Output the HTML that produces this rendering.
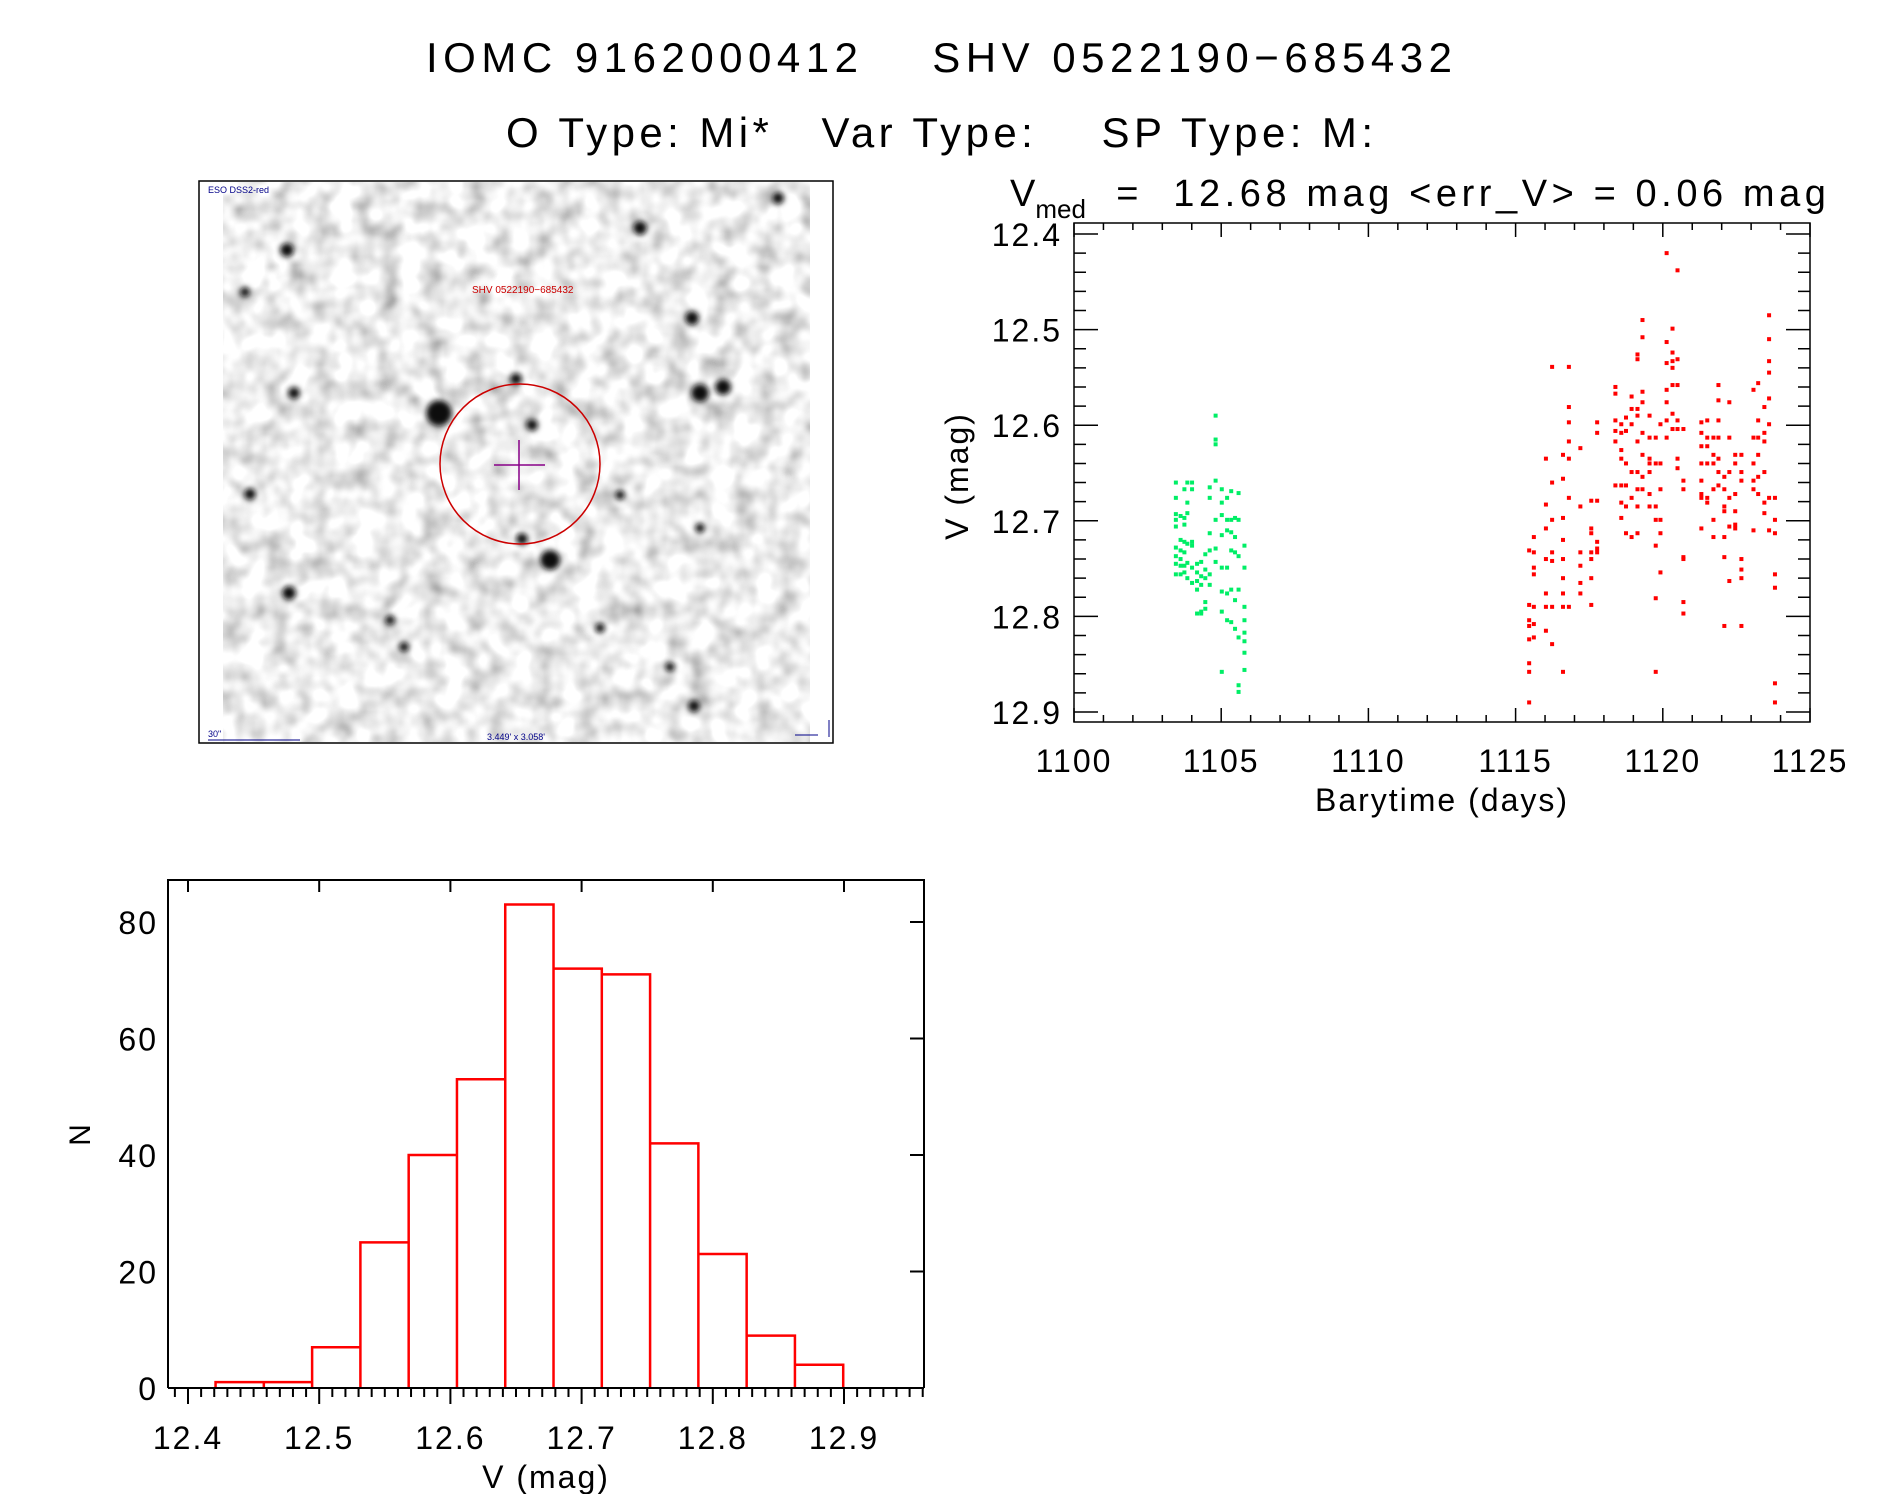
<!DOCTYPE html>
<html><head><meta charset="utf-8">
<style>
html,body{margin:0;padding:0;background:#fff;}
svg{display:block;font-family:"Liberation Sans",sans-serif;}
</style></head>
<body>
<svg id="fig" width="1889" height="1494" viewBox="0 0 1889 1494">
<defs>
<filter id="noise" x="0" y="0" width="100%" height="100%">
<feTurbulence type="fractalNoise" baseFrequency="0.045" numOctaves="2" seed="7" result="t"/>
<feColorMatrix type="saturate" values="0" in="t" result="g"/>
<feComponentTransfer in="g"><feFuncR type="linear" slope="-1.5" intercept="1.6"/><feFuncG type="linear" slope="-1.5" intercept="1.6"/><feFuncB type="linear" slope="-1.5" intercept="1.6"/><feFuncA type="linear" slope="0" intercept="1"/></feComponentTransfer>
</filter>
<filter id="blur"><feGaussianBlur stdDeviation="3"/></filter>
</defs>
<text x="426" y="72" font-size="42" textLength="1026" lengthAdjust="spacing" xml:space="preserve">IOMC 9162000412    SHV 0522190−685432</text>
<text x="506" y="147" font-size="42" textLength="867" lengthAdjust="spacing" xml:space="preserve">O Type: Mi*   Var Type:    SP Type: M:</text>
<text x="1010" y="206" font-size="38" xml:space="preserve">V<tspan font-size="26" dy="12">med</tspan><tspan dy="-12" textLength="740" lengthAdjust="spacing">  =  12.68 mag &lt;err_V&gt; = 0.06 mag</tspan></text>

<g>
<rect x="199" y="181" width="634" height="562" fill="#fff" stroke="#000" stroke-width="1.5"/>
<rect x="223" y="182" width="587" height="560" fill="#e6e6e6" filter="url(#noise)"/>
<g fill="#111" filter="url(#blur)">
<circle cx="439" cy="413" r="13"/><circle cx="550" cy="560" r="10"/><circle cx="287" cy="250" r="7"/><circle cx="692" cy="318" r="7"/><circle cx="700" cy="393" r="9"/><circle cx="723" cy="387" r="8"/><circle cx="640" cy="228" r="7"/><circle cx="294" cy="393" r="6"/><circle cx="250" cy="494" r="6"/><circle cx="516" cy="379" r="6"/><circle cx="532" cy="425" r="6"/><circle cx="245" cy="292" r="5"/><circle cx="289" cy="593" r="7"/><circle cx="522" cy="539" r="6"/><circle cx="694" cy="706" r="6"/><circle cx="778" cy="198" r="6"/><circle cx="670" cy="667" r="5"/><circle cx="600" cy="628" r="5"/><circle cx="404" cy="647" r="5"/><circle cx="620" cy="495" r="5"/><circle cx="390" cy="620" r="5"/><circle cx="700" cy="528" r="5"/></g>
<circle cx="520" cy="464" r="80" fill="none" stroke="#c00" stroke-width="1.5"/>
<path d="M519 440V490M494 465H545" stroke="#808" stroke-width="1.5"/>
<text x="472" y="293" font-size="10" fill="#c00">SHV 0522190−685432</text>
<text x="208" y="193" font-size="9" fill="#008">ESO DSS2-red</text>
<text x="208" y="737" font-size="9" fill="#008">30"</text>
<path d="M208 740H300" stroke="#008"/>
<text x="487" y="740" font-size="9" fill="#008">3.449' x 3.058'</text>
<path d="M829 720V737M795 735H818" stroke="#008"/>
</g>

<g id="lc"></g>
<g id="hist"></g>
</svg>
<script>
// ===== light curve data =====
const greenTimes = [1103.46,1103.62,1103.75,1103.85,1104.01,1104.18,1104.32,1104.46,1104.61,1104.81,1105.02,1105.2,1105.34,1105.47,1105.59,1105.79];
const greenMags = [
[12.660,12.676,12.693,12.699,12.706,12.728,12.737,12.745,12.756],
[12.695,12.720,12.731,12.740,12.747,12.756],
[12.667,12.697,12.704,12.722,12.733,12.747,12.754],
[12.660,12.681,12.692,12.724,12.744,12.760],
[12.660,12.667,12.722,12.726,12.749,12.765],
[12.745,12.754,12.763,12.772,12.797],
[12.743,12.758,12.767,12.795,12.797],
[12.735,12.751,12.760,12.785,12.792],
[12.665,12.676,12.713,12.731,12.756,12.767],
[12.590,12.615,12.620,12.658,12.699,12.729,12.743],
[12.667,12.681,12.694,12.715,12.749,12.774,12.795,12.858],
[12.676,12.699,12.710,12.749,12.776,12.804],
[12.669,12.699,12.712,12.731,12.772,12.806],
[12.697,12.717,12.733,12.783,12.813],
[12.671,12.699,12.737,12.772,12.822,12.872,12.879],
[12.726,12.749,12.790,12.804,12.817,12.826,12.838,12.856]];
const redTimes = [1115.46,1115.62,1116.03,1116.24,1116.61,1116.81,1117.2,1117.57,1117.77,1118.39,1118.59,1118.75,1118.94,1119.14,1119.31,1119.55,1119.76,1119.92,1120.13,1120.33,1120.5,1120.7,1121.31,1121.51,1121.72,1121.89,1122.09,1122.26,1122.46,1122.67,1123.08,1123.24,1123.45,1123.61,1123.81];
const redMags = [
[12.731,12.788,12.804,12.810,12.824,12.849,12.858,12.890],
[12.717,12.733,12.749,12.756,12.790,12.808,12.822],
[12.635,12.683,12.708,12.740,12.776,12.790,12.815],
[12.539,12.660,12.699,12.733,12.742,12.790,12.829],
[12.631,12.656,12.697,12.720,12.740,12.760,12.776,12.790,12.858],
[12.539,12.581,12.597,12.617,12.635,12.676,12.790],
[12.624,12.685,12.733,12.747,12.765,12.776],
[12.679,12.708,12.713,12.733,12.740,12.760,12.788],
[12.597,12.608,12.679,12.722,12.729,12.733],
[12.560,12.567,12.595,12.606,12.617,12.663],
[12.599,12.608,12.626,12.635,12.663,12.681,12.697],
[12.592,12.606,12.640,12.663,12.685,12.713],
[12.570,12.583,12.599,12.649,12.676,12.717],
[12.526,12.531,12.583,12.590,12.617,12.649,12.667,12.685,12.713],
[12.490,12.508,12.565,12.576,12.608,12.631,12.654,12.667],
[12.590,12.613,12.635,12.640,12.649,12.672,12.685],
[12.613,12.640,12.685,12.699,12.726,12.781,12.858],
[12.599,12.640,12.667,12.699,12.713,12.754],
[12.420,12.513,12.535,12.563,12.576,12.595,12.613],
[12.499,12.524,12.533,12.540,12.558,12.588,12.604],
[12.438,12.531,12.558,12.595,12.604,12.635,12.645],
[12.604,12.658,12.667,12.738,12.740,12.785,12.797],
[12.597,12.608,12.622,12.640,12.658,12.672,12.676,12.708],
[12.595,12.613,12.622,12.640,12.676,12.681],
[12.613,12.631,12.640,12.667,12.699,12.717],
[12.558,12.574,12.595,12.613,12.635,12.649,12.663],
[12.654,12.667,12.685,12.690,12.717,12.738,12.810],
[12.576,12.613,12.649,12.676,12.706,12.763],
[12.631,12.640,12.672,12.690,12.704,12.708],
[12.631,12.649,12.658,12.740,12.751,12.760,12.810],
[12.563,12.613,12.640,12.658,12.667,12.710],
[12.556,12.595,12.613,12.631,12.654,12.672],
[12.581,12.608,12.617,12.649,12.681,12.692],
[12.485,12.510,12.533,12.545,12.572,12.599,12.676,12.710],
[12.676,12.699,12.713,12.756,12.770,12.870,12.890]];
const lcXTicks = [1100,1105,1110,1115,1120,1125];
const lcYTicks = [12.4,12.5,12.6,12.7,12.8,12.9];

// ===== histogram data =====
const binStart = 12.421;
const binWidth = 0.0368;
const binCounts = [1,1,7,25,40,53,83,72,71,42,23,9,4];
const histXTicks = [12.4,12.5,12.6,12.7,12.8,12.9];
const histYTicks = [0,20,40,60,80];

const NS='http://www.w3.org/2000/svg';
function mk(parent,tag,attrs,text){const e=document.createElementNS(NS,tag);for(const k in attrs)e.setAttribute(k,attrs[k]);if(text!==undefined)e.textContent=text;parent.appendChild(e);return e;}

// ---- light curve ----
(function(){
const g=document.getElementById('lc');
const L=1074,R=1810,T=223,B=722;
const x0=1100,x1=1125;
const yA=12.4,yAp=234,yB=12.9,yBp=712;
const X=t=>L+(t-x0)/(x1-x0)*(R-L);
const Y=v=>yAp+(v-yA)/(yB-yA)*(yBp-yAp);
const frame=mk(g,'rect',{x:L,y:T,width:R-L,height:B-T,fill:'none',stroke:'#000','stroke-width':1.5});


let d='';
for(let t=x0;t<=x1+1e-9;t+=1){const major=Math.abs(t/5-Math.round(t/5))<1e-6;const len=major?14:7;d+=`M${X(t)} ${B}v${-len}M${X(t)} ${T}v${len}`;}
const vmin=yA+(T-yAp)/(yBp-yAp)*(yB-yA), vmax=yA+(B-yAp)/(yBp-yAp)*(yB-yA);
for(let k=Math.ceil(vmin/0.02);k*0.02<=vmax;k++){const v=k*0.02;const major=Math.abs(v*10-Math.round(v*10))<1e-6;const len=major?24:12;d+=`M${L} ${Y(v)}h${len}M${R} ${Y(v)}h${-len}`;}
const ticks=mk(g,'path',{d:d,stroke:'#000','stroke-width':1.5,fill:'none'});


lcXTicks.forEach(t=>{const e=mk(g,'text',{x:X(t),y:772,'font-size':32,'letter-spacing':2,'text-anchor':'middle'},String(t));

});
lcYTicks.forEach(v=>{const e=mk(g,'text',{x:1062,y:Y(v)+12,'font-size':32,'letter-spacing':2,'text-anchor':'end'},v.toFixed(1));

});
const xt=mk(g,'text',{x:1442,y:811,'font-size':32,'letter-spacing':2,'text-anchor':'middle'},'Barytime (days)');


const yt=mk(g,'text',{x:0,y:0,'font-size':32,'letter-spacing':2,'text-anchor':'middle',transform:'translate(968,476) rotate(-90)'},'V (mag)');


const sets=[[greenTimes,greenMags,'#00ee66','green-point'],[redTimes,redMags,'#ff0000','red-point']];
sets.forEach(([ts,ms,col,nm])=>{ts.forEach((t,i)=>{ms[i].forEach(v=>{const p=mk(g,'rect',{x:X(t)-2,y:Y(v)-2,width:4,height:4,fill:col});

});});});
})();

// ---- histogram ----
(function(){
const g=document.getElementById('hist');
const L=168,R=924,T=880,B=1388;
const xa=12.4,xap=188,xb=12.9,xbp=844;
const X=v=>xap+(v-xa)/(xb-xa)*(xbp-xap);
const Y=n=>B-n*(B-922)/80;
let bd='';
binCounts.forEach((c,i)=>{const a=X(binStart+i*binWidth),b=X(binStart+(i+1)*binWidth);bd+=`M${a} ${B}V${Y(c)}H${b}V${B}`;});
const bars=mk(g,'path',{d:bd,fill:'none',stroke:'#ff0000','stroke-width':2.5});


const frame=mk(g,'path',{d:`M${L} ${B}V${T}H${R}V${B}`,fill:'none',stroke:'#000','stroke-width':2});


const base=mk(g,'path',{d:`M${L} ${B}H${R}`,stroke:'#000','stroke-width':2});


let d='';
for(let k=Math.ceil(12.384*100);k<=1296;k++){const v=k/100;const major=k%10===0;const len=major?16:9;d+=`M${X(v)} ${B}v${len}`;if(major&&v<=12.9)d+=`M${X(v)} ${T}v12`;}
histYTicks.forEach(n=>{d+=`M${R} ${Y(n)}h-14`;});
const ticks=mk(g,'path',{d:d,stroke:'#000','stroke-width':2});


histXTicks.forEach(v=>{const e=mk(g,'text',{x:X(v),y:1449,'font-size':32,'letter-spacing':2,'text-anchor':'middle'},v.toFixed(1));

});
histYTicks.forEach(n=>{const e=mk(g,'text',{x:158,y:Y(n)+12,'font-size':32,'letter-spacing':2,'text-anchor':'end'},String(n));

});
const xt=mk(g,'text',{x:546,y:1488,'font-size':32,'letter-spacing':2,'text-anchor':'middle'},'V (mag)');


const yt=mk(g,'text',{x:0,y:0,'font-size':30,'text-anchor':'middle',transform:'translate(90,1135) rotate(-90)'},'N');


})();
</script>
</body></html>
